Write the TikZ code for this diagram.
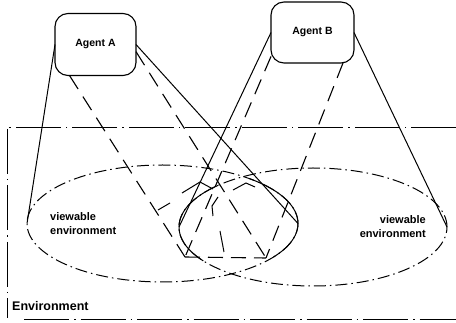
\documentclass[tikz,border=0pt]{standalone}
\usepackage{fontspec}
\setmainfont{Liberation Sans}
\usetikzlibrary{shapes.geometric}
\begin{document}
\begin{tikzpicture}[x=1pt,y=-1pt,
  agent/.style={draw, rounded corners=13pt, line width=1.1pt, minimum width=81pt, minimum height=62pt, inner sep=0pt, outer sep=0pt, font=\fontsize{10.5}{12}\selectfont\bfseries},
  view/.style={draw, ellipse, inner sep=0pt, outer sep=0pt, line width=1pt, dash pattern=on 12pt off 4pt on 1.5pt off 4pt},
  envline/.style={line width=1pt, dash pattern=on 45pt off 5pt on 1.5pt off 5pt},
  cone/.style={line width=1pt},
  sight/.style={line width=1.1pt, dash pattern=on 16pt off 9pt},
  lbl/.style={font=\fontsize{11}{14}\selectfont\bfseries, inner sep=0pt},
  scrib/.style={line width=1pt}
]
\useasboundingbox (0,0) rectangle (456,323);
\fill[white] (0,0) rectangle (456,323);

% environment frame
\coordinate (e1) at (456,128);
\coordinate (e2) at (8,128);
\coordinate (e3) at (7,129);
\coordinate (e4) at (7,318);
\coordinate (e5) at (24,320);
\coordinate (e6) at (456,320);
\draw[envline] (e1) -- (e2);
\draw[envline] (e3) -- (e4);
\draw[envline] (e5) -- (e6);
\node[font=\fontsize{12.5}{14}\selectfont\bfseries, anchor=west, inner sep=0pt] (env) at (12,306) {Environment};

% agents
\node[agent] (A) at (95.5,44.5) {Agent A};
\node[agent, minimum width=83pt, minimum height=61pt] (B) at (312.5,32.5) {Agent B};

% viewable environments
\node[view, minimum width=271pt, minimum height=117pt] (L) at (162.5,223.5) {};
\node[view, minimum width=268pt, minimum height=118pt] (R) at (313,227) {};
\node[lbl, anchor=west, align=left] (tl) at (50,224) {viewable\\environment};
\node[lbl, anchor=east, align=right] (tr) at (426,227) {viewable\\environment};

% overlap boundaries
\draw[scrib] plot[domain=135:215, samples=30] ({313+134*cos(\x)},{227-59*sin(\x)});
\draw[scrib] plot[domain=-35:50, samples=30] ({162.5+135.5*cos(\x)},{223.5-58.5*sin(\x)});

% view cones
\draw[cone] (A.west) -- (L.west);
\draw[cone] (A.east) -- (L.east);
\draw[cone] (B.west) -- (R.west);
\draw[cone] (B.east) -- (R.east);

% lines of sight to shared region
\coordinate (p1) at (185,257);
\coordinate (p2) at (266,258);
\draw[sight] (A.230) -- (p1);
\draw[sight] (A.-10) -- (p2);
\draw[sight] (B.210) -- (p1);
\draw[sight] (B.-45) -- (p2);
\draw[sight, dash pattern=on 15pt off 8pt] (p1) -- (p2);

% sketch strokes inside overlap
\draw[scrib] (182,193) -- (200,182) -- (213,189);
\draw[scrib] (158,210) -- (170,203);
\draw[scrib] (213,216) -- (212,206) -- (218,197);
\draw[scrib] (233,190) -- (246,183) -- (255,187);
\draw[scrib] (220,231) -- (224,252);
\end{tikzpicture}
\end{document}
